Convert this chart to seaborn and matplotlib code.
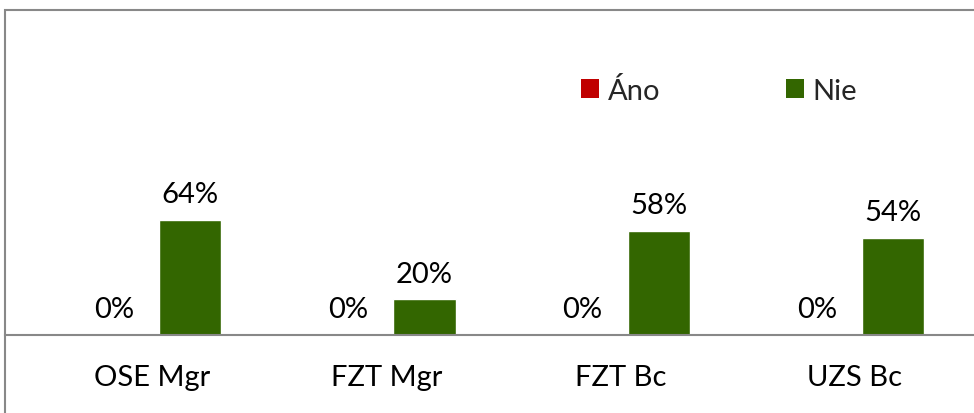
import matplotlib
matplotlib.use("Agg")
import matplotlib.pyplot as plt
import seaborn as sns
import pandas as pd
from matplotlib.patches import Rectangle, Patch

categories = ["OSE Mgr", "FZT Mgr", "FZT Bc", "UZS Bc"]
series_names = ["Áno", "Nie"]
ano_values = [0, 0, 0, 0]
nie_values = [64, 20, 58, 54]
colors = {"Áno": "#C00000", "Nie": "#336600"}

df = pd.DataFrame({
    "category": categories * 2,
    "series": ["Áno"] * len(categories) + ["Nie"] * len(categories),
    "value": ano_values + nie_values,
})

sns.set_theme(style="white")
plt.rcParams["font.family"] = ["Lato", "DejaVu Sans"]

W, H = 974, 414
fig = plt.figure(figsize=(W / 100, H / 100), dpi=100)
ax = fig.add_axes([5 / W, (H - 336) / H, 1 - 5 / W, (336 - 11) / H])

sns.barplot(data=df, x="category", y="value", hue="series", order=categories,
            hue_order=series_names, palette=colors, width=0.65, gap=0.18,
            ax=ax, legend=False, saturation=1)

ax.set_xlim((5 - 152) / 234.33, (974 - 152) / 234.33)
ax.set_ylim(0, (336 - 11) / 1.797)
ax.set_yticks([])
ax.set_xlabel("")
ax.set_ylabel("")
for s in ["top", "left", "right"]:
    ax.spines[s].set_visible(False)
ax.spines["bottom"].set_color("#888888")
ax.spines["bottom"].set_linewidth(1.5)
ax.tick_params(axis="x", length=0, pad=21, labelsize=21, colors="black")

for cont in ax.containers:
    ax.bar_label(cont, labels=[f"{v:.0f}%" for v in cont.datavalues],
                 padding=9, fontsize=21, color="black")

# figure border
fig.patches.append(Rectangle((5 / W, -0.1), 1.2, (H - 11) / H + 0.1,
                             transform=fig.transFigure, fill=False,
                             edgecolor="#888888", linewidth=1.5))

handles = [Patch(facecolor=colors[s], edgecolor="none", label=s) for s in series_names]
leg = fig.legend(handles=handles, loc="upper left",
                 bbox_to_anchor=(581 / W, 1 - 78 / H), ncol=2, frameon=False,
                 fontsize=21, handlelength=0.62, handleheight=0.62,
                 handletextpad=0.3, columnspacing=4.3, borderpad=0,
                 borderaxespad=0)

fig.savefig("out.png", dpi=100)
